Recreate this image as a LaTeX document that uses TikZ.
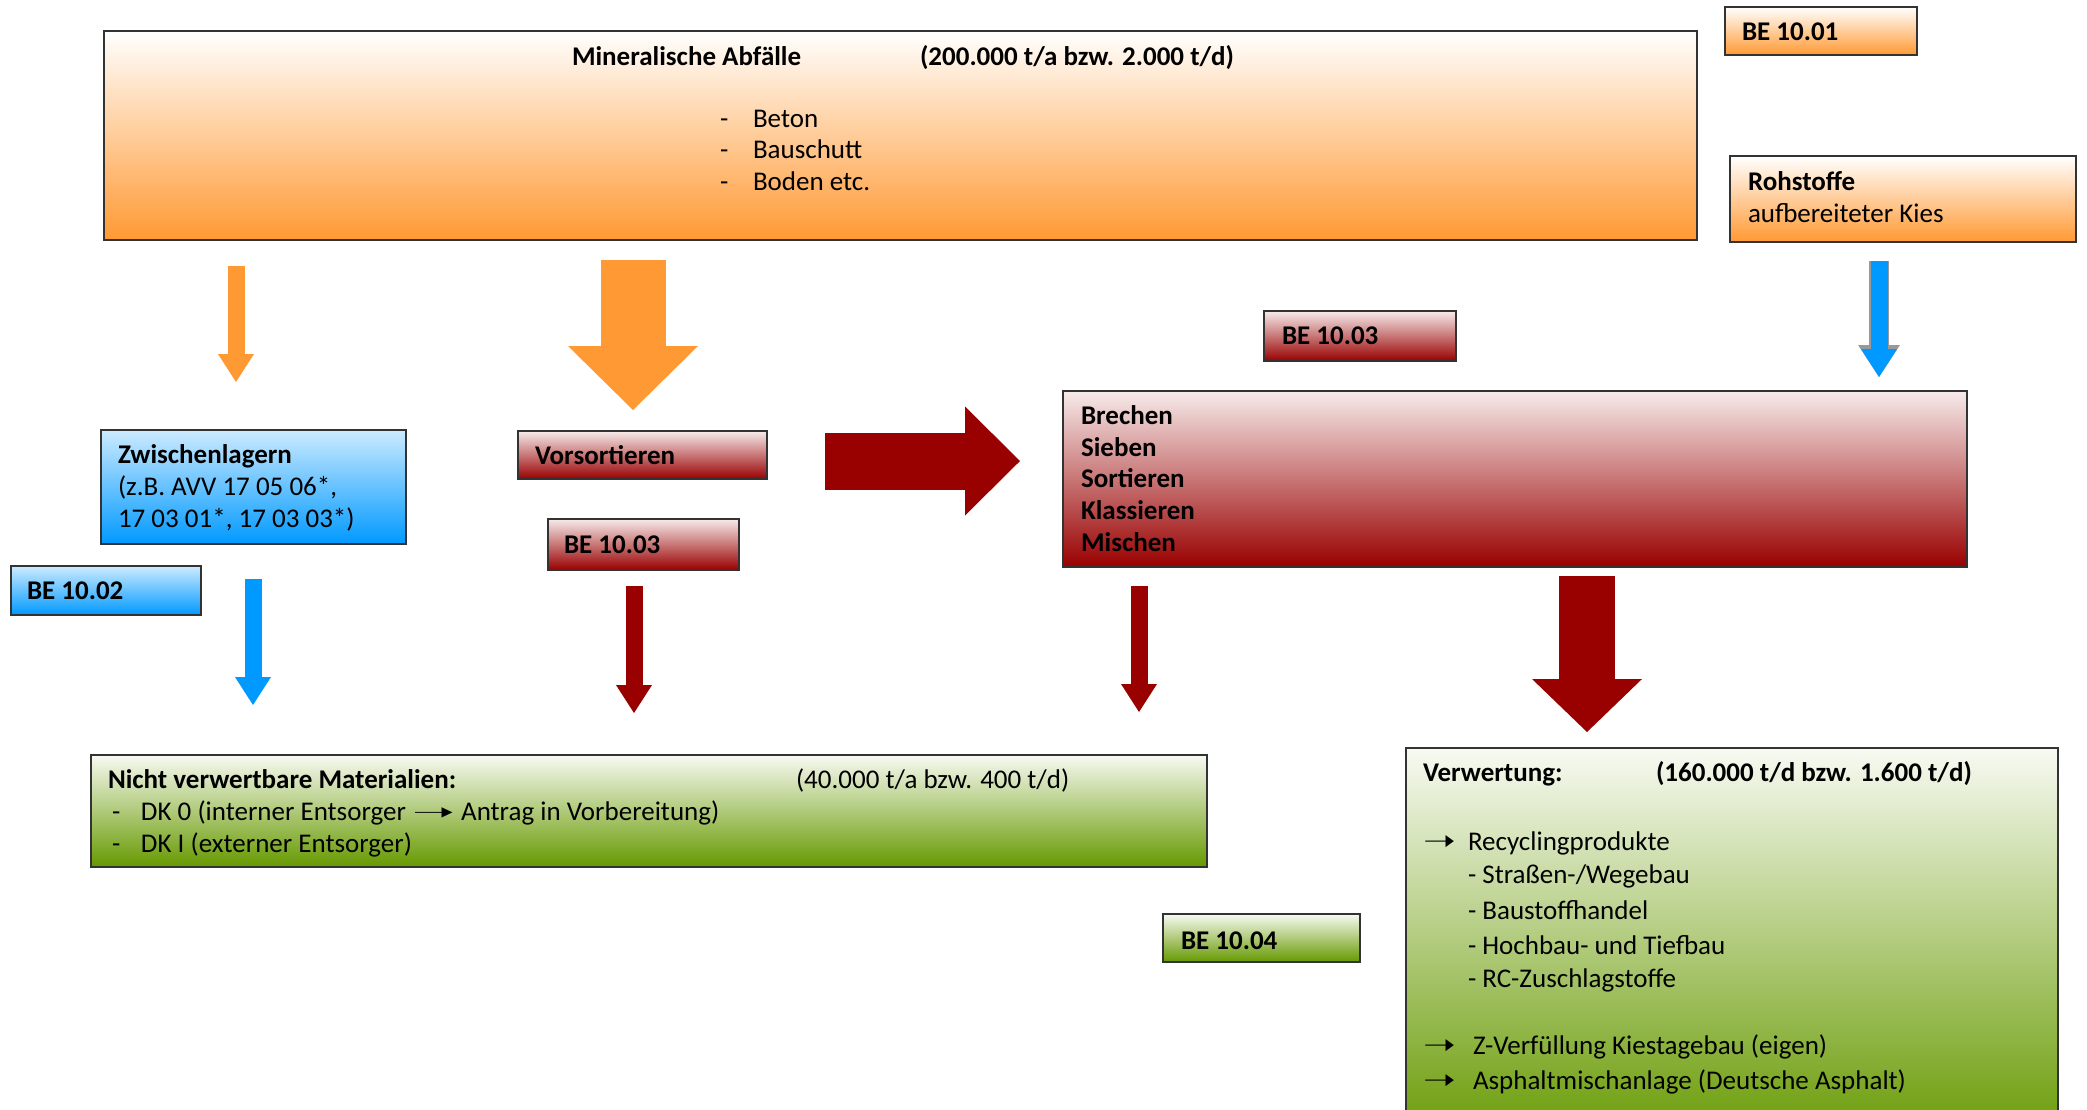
\documentclass[tikz,border=0pt]{standalone}
\usepackage{fontspec}
\setmainfont{Carlito}
\newfontfamily\arrowfont{DejaVu Sans}
\usepackage{tikz}
\usetikzlibrary{arrows.meta}
\definecolor{cff9933}{RGB}{255,153,51}
\definecolor{c990000}{RGB}{153,0,0}
\definecolor{c0099ff}{RGB}{0,153,255}
\definecolor{c669900}{RGB}{102,153,0}
\newcommand{\listarrow}{{\arrowfont\scalebox{1.45}[1.05]{➝}}}
\newcommand{\longlistarrow}{{\arrowfont\scalebox{1.9}[0.9]{➝}}}

\begin{document}
\begin{tikzpicture}[y=0.5pt, x=0.5pt, yscale=-1, inner sep=0pt, outer sep=0pt,
  every node/.style={font=\fontsize{13.5}{16}\selectfont},
  box/.style={draw=black!80, line width=0.9pt, anchor=north west},
  orangebox/.style={box, top color=white, middle color=cff9933, bottom color=cff9933},
  redbox/.style={box, top color=white!92!c990000, middle color=c990000, bottom color=c990000},
  bluebox/.style={box, top color=white!80!c0099ff, middle color=c0099ff, bottom color=c0099ff},
  greenbox/.style={box, top color=white!95!c669900, middle color=c669900, bottom color=c669900},
  txt/.style={anchor=mid west, text=black},
  btxt/.style={txt, font=\fontsize{13.5}{16}\selectfont\bfseries},
  thinarrow/.style={line width=8.5pt, -{Triangle[width=18pt, length=14pt, line width=0pt]}},
]
  \useasboundingbox (0,0) rectangle (2087,1109);

  % boxes
  \node[orangebox, minimum width=796.5pt, minimum height=104.5pt] (mineral) at (104,31) {};
  \node[orangebox, minimum width=96pt, minimum height=24pt] (be1001) at (1725,7) {};
  \node[orangebox, minimum width=173pt, minimum height=43pt] (rohstoffe) at (1730,156) {};
  \node[redbox, minimum width=96pt, minimum height=25pt] (be1003a) at (1264,311) {};
  \node[redbox, minimum width=452pt, minimum height=88pt] (process) at (1063,391) {};
  \node[bluebox, minimum width=152.5pt, minimum height=57pt] (zwischen) at (101,430) {};
  \node[redbox, minimum width=124.5pt, minimum height=24pt] (vorsort) at (518,431) {};
  \node[redbox, minimum width=95.5pt, minimum height=25.5pt] (be1003b) at (548,519) {};
  \node[bluebox, minimum width=95pt, minimum height=24.5pt] (be1002) at (11,566) {};
  \node[greenbox, minimum width=558pt, minimum height=56pt] (nicht) at (91,755) {};
  \node[greenbox, minimum width=98.5pt, minimum height=24pt] (be1004) at (1163,914) {};
  \node[greenbox, minimum width=326pt, minimum height=200pt] (verwertung) at (1406,748) {};

  % texts
  \node[btxt] (mineral-title) at (572,61) {Mineralische Abfälle};
  \node[btxt] (mineral-amount) at (920,61) {(200.000 t/a bzw. 2.000 t/d)};
  \node[txt] (mineral-1) at (720,123) {\makebox[16.5pt][l]{-}Beton};
  \node[txt] (mineral-2) at (720,154) {\makebox[16.5pt][l]{-}Bauschutt};
  \node[txt] (mineral-3) at (720,186) {\makebox[16.5pt][l]{-}Boden etc.};
  \node[btxt] (be1001-text) at (1742,36) {BE 10.01};
  \node[btxt] (rohstoffe-title) at (1748,186) {Rohstoffe};
  \node[txt] (rohstoffe-text) at (1748,218) {aufbereiteter Kies};
  \node[btxt] (be1003a-text) at (1282,340) {BE 10.03};
  \node[btxt] (process-1) at (1081,420) {Brechen};
  \node[btxt] (process-2) at (1081,452) {Sieben};
  \node[btxt] (process-3) at (1081,483) {Sortieren};
  \node[btxt] (process-4) at (1081,515) {Klassieren};
  \node[btxt] (process-5) at (1081,547) {Mischen};
  \node[btxt] (zwischen-title) at (118,459) {Zwischenlagern};
  \node[txt] (zwischen-1) at (118,491) {(z.B. AVV 17 05 06*,};
  \node[txt] (zwischen-2) at (118,523) {17 03 01*, 17 03 03*)};
  \node[btxt] (vorsort-text) at (535,460) {Vorsortieren};
  \node[btxt] (be1003b-text) at (564,549) {BE 10.03};
  \node[btxt] (be1002-text) at (27,595) {BE 10.02};
  \node[btxt] (nicht-title) at (108,784) {Nicht verwertbare Materialien:};
  \node[txt] (nicht-amount) at (796,784) {(40.000 t/a bzw. 400 t/d)};
  \node[txt] (nicht-1) at (112,816) {\makebox[14.5pt][l]{-}DK 0 (interner Entsorger \longlistarrow\ Antrag in Vorbereitung)};
  \node[txt] (nicht-2) at (112,848) {\makebox[14.5pt][l]{-}DK I (externer Entsorger)};
  \node[btxt] (be1004-text) at (1181,945) {BE 10.04};
  \node[btxt] (verwertung-title) at (1423,777) {Verwertung:};
  \node[btxt] (verwertung-amount) at (1656,777) {(160.000 t/d bzw. 1.600 t/d)};
  \node[txt] (verwertung-1) at (1423,846) {\makebox[22.5pt][l]{\listarrow}Recyclingprodukte};
  \node[txt] (verwertung-2) at (1468,879) {- Straßen-/Wegebau};
  \node[txt] (verwertung-3) at (1468,915) {- Baustoffhandel};
  \node[txt] (verwertung-4) at (1468,950) {- Hochbau- und Tiefbau};
  \node[txt] (verwertung-5) at (1468,983) {- RC-Zuschlagstoffe};
  \node[txt] (verwertung-6) at (1423,1050) {\makebox[25pt][l]{\listarrow}Z-Verfüllung Kiestagebau (eigen)};
  \node[txt] (verwertung-7) at (1423,1085) {\makebox[25pt][l]{\listarrow}Asphaltmischanlage (Deutsche Asphalt)};

  % arrow ends
  \coordinate (orange-thin-a) at (236,266);
  \coordinate (orange-thin-b) at (236,382);
  \coordinate (orange-big-a) at (633,260);
  \coordinate (orange-big-b) at (633,410);
  \coordinate (blue-top-a) at (1879,261);
  \coordinate (blue-top-b) at (1879,377);
  \coordinate (red-right-a) at (825,461);
  \coordinate (red-right-b) at (1020,461);
  \coordinate (blue-low-a) at (253,579);
  \coordinate (blue-low-b) at (253,705);
  \coordinate (red-mid-a) at (634,586);
  \coordinate (red-mid-b) at (634,713);
  \coordinate (red-low-a) at (1139,586);
  \coordinate (red-low-b) at (1139,712);
  \coordinate (red-big-a) at (1587,576);
  \coordinate (red-big-b) at (1587,732);

  % arrows
  \draw[thinarrow, cff9933] (orange-thin-a) -- (orange-thin-b);
  \draw[cff9933, line width=32.5pt, -{Triangle[width=65pt, length=32pt, line width=0pt]}] (orange-big-a) -- (orange-big-b);
  \draw[thinarrow, c0099ff, preaction={draw=black!40, line width=10pt, -{Triangle[width=21pt, length=16pt, line width=0pt]}}] (blue-top-a) -- (blue-top-b);
  \draw[c990000, line width=28.5pt, -{Triangle[width=54.5pt, length=27.5pt, line width=0pt]}] (red-right-a) -- (red-right-b);
  \draw[thinarrow, c0099ff] (blue-low-a) -- (blue-low-b);
  \draw[thinarrow, c990000] (red-mid-a) -- (red-mid-b);
  \draw[thinarrow, c990000] (red-low-a) -- (red-low-b);
  \draw[c990000, line width=28pt, -{Triangle[width=55pt, length=26.5pt, line width=0pt]}] (red-big-a) -- (red-big-b);
\end{tikzpicture}
\end{document}
